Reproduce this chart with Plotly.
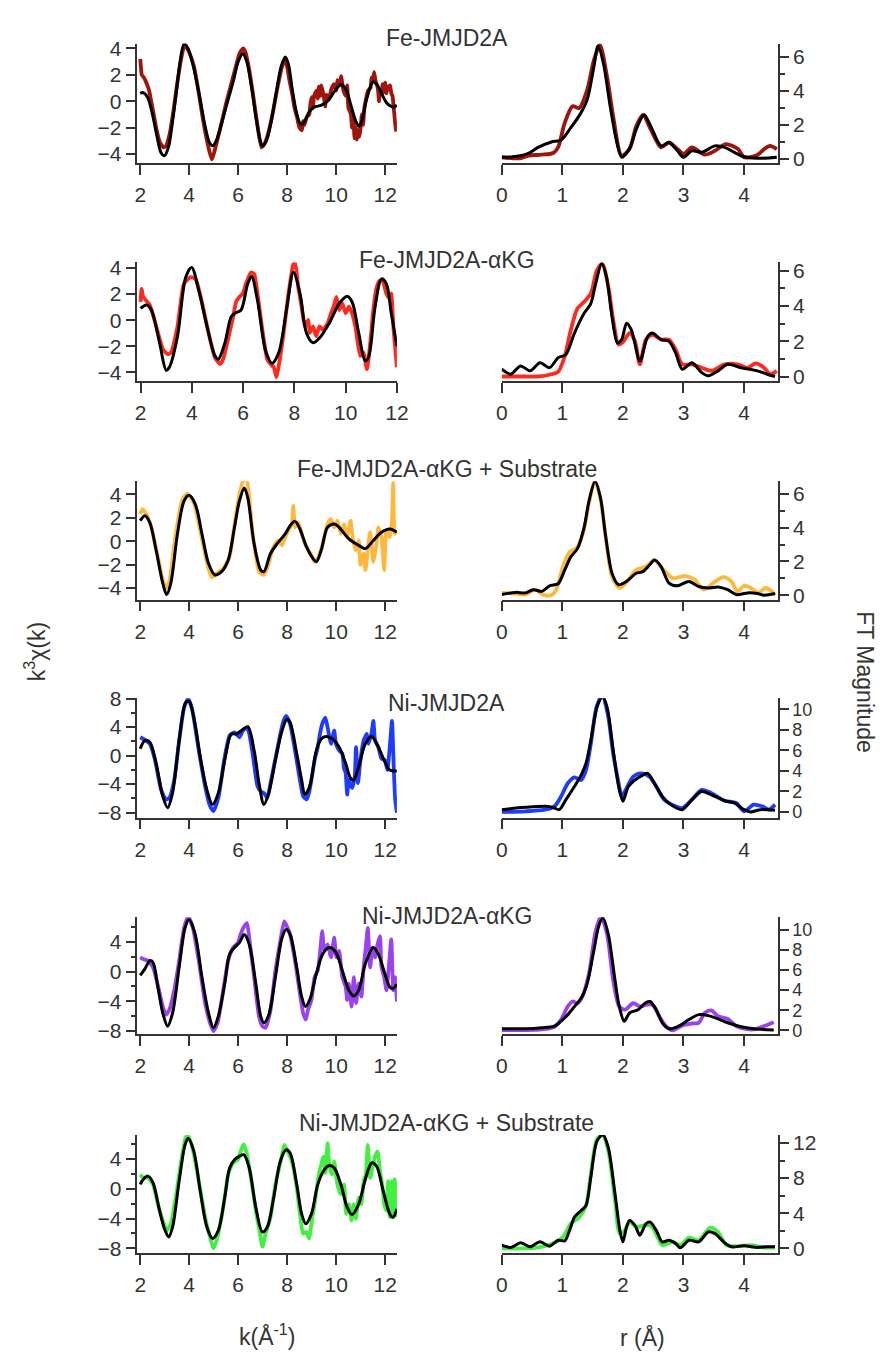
import plotly.graph_objects as go

W, H = 887, 1359

# ---------------- data (k, k^3 chi) and (r, FT magnitude) ----------------
fe_chi_data = [(2.0,3.2),(2.03,2.6),(2.06,2.0),(2.15,1.8),(2.25,1.4),(2.35,0.9),(2.5,-0.5),(2.65,-2.0),(2.8,-3.1),(2.95,-3.5),(3.05,-3.4),(3.2,-2.5),(3.35,-0.8),(3.5,1.2),(3.65,3.0),(3.8,4.2),(3.9,4.05),(4.0,3.7),(4.2,2.6),(4.4,0.5),(4.6,-1.8),(4.8,-3.6),(4.92,-4.4),(5.0,-4.0),(5.1,-3.3),(5.3,-1.8),(5.5,-0.2),(5.7,1.2),(5.9,2.6),(6.05,3.6),(6.2,4.0),(6.3,3.7),(6.45,2.4),(6.6,0.6),(6.8,-2.0),(6.95,-3.5),(7.05,-3.3),(7.2,-2.6),(7.4,-1.0),(7.6,1.0),(7.8,2.7),(7.9,3.1),(8.0,2.6),(8.1,1.5),(8.2,0.6),(8.3,-0.5),(8.4,-1.2),(8.5,-2.0),(8.6,-2.2),(8.65,-1.5),(8.7,-1.8),(8.8,-1.2),(8.9,-1.0),(8.95,-0.2),(9.0,0.3),(9.05,-0.5),(9.1,0.4),(9.2,0.8),(9.25,0.2),(9.3,1.1),(9.35,0.4),(9.4,1.2),(9.5,0.3),(9.55,-0.4),(9.6,0.5),(9.7,0.2),(9.8,0.9),(9.9,1.3),(10.0,0.8),(10.05,1.6),(10.15,1.2),(10.2,1.9),(10.3,0.8),(10.4,0.4),(10.45,1.2),(10.5,-0.5),(10.6,-1.0),(10.65,-2.0),(10.7,-1.2),(10.75,-2.8),(10.8,-2.0),(10.85,-2.9),(10.9,-2.2),(10.95,-2.7),(11.0,-2.0),(11.05,-1.0),(11.1,-1.8),(11.15,-0.5),(11.2,0.0),(11.3,0.8),(11.4,1.0),(11.45,1.8),(11.5,1.5),(11.55,2.2),(11.6,1.6),(11.7,1.0),(11.75,0.0),(11.8,0.9),(11.85,0.5),(11.9,1.3),(11.95,0.7),(12.0,1.4),(12.05,0.6),(12.1,1.0),(12.2,1.2),(12.25,0.6),(12.3,0.4),(12.35,-0.5),(12.4,-1.5),(12.45,-2.3)]
fe_chi_fit = [(2.0,0.6),(2.12,0.65),(2.3,0.3),(2.5,-1.0),(2.7,-2.8),(2.85,-3.9),(2.99,-4.13),(3.15,-3.5),(3.3,-1.8),(3.45,0.3),(3.6,2.6),(3.79,4.35),(3.95,4.0),(4.15,2.8),(4.4,0.6),(4.65,-1.9),(4.82,-3.1),(4.95,-3.38),(5.1,-3.0),(5.35,-1.5),(5.6,0.2),(5.8,1.5),(6.0,3.0),(6.19,3.6),(6.35,3.0),(6.55,1.0),(6.75,-1.5),(6.9,-3.0),(6.99,-3.38),(7.15,-3.0),(7.35,-1.5),(7.55,0.6),(7.75,2.6),(7.92,3.35),(8.05,2.8),(8.2,1.0),(8.35,-0.6),(8.5,-1.6),(8.6,-1.76),(8.75,-1.4),(8.9,-0.8),(9.1,-0.45),(9.4,-0.3),(9.7,0.1),(9.95,0.8),(10.2,1.25),(10.4,0.9),(10.6,-0.3),(10.8,-1.5),(10.93,-1.9),(11.05,-1.5),(11.25,0.2),(11.5,1.45),(11.65,1.3),(11.85,0.6),(12.05,-0.1),(12.2,-0.35),(12.35,-0.45),(12.48,-0.3)]
fe_ft_data = [(0.0,0.1),(0.31,0.04),(0.44,0.2),(0.66,0.25),(0.85,0.35),(0.93,0.68),(1.04,2.13),(1.17,3.1),(1.28,3.0),(1.41,4.06),(1.52,5.8),(1.62,6.7),(1.74,4.8),(1.84,2.5),(1.98,0.2),(2.11,0.6),(2.22,1.93),(2.33,2.6),(2.46,1.74),(2.63,0.68),(2.76,0.97),(2.9,0.58),(3.0,0.29),(3.14,0.68),(3.35,0.25),(3.52,0.48),(3.7,0.87),(3.9,0.58),(4.0,0.1),(4.22,0.23),(4.33,0.58),(4.43,0.77),(4.54,0.58)]
fe_ft_fit = [(0.0,0.1),(0.15,0.12),(0.31,0.19),(0.45,0.35),(0.6,0.68),(0.82,1.0),(0.98,1.12),(1.14,1.84),(1.3,2.67),(1.41,3.48),(1.52,5.4),(1.59,6.67),(1.68,5.6),(1.79,3.1),(1.9,0.97),(1.98,0.1),(2.11,0.62),(2.22,1.74),(2.35,2.61),(2.46,1.93),(2.63,0.77),(2.76,0.97),(2.9,0.48),(3.0,0.1),(3.14,0.48),(3.3,0.39),(3.52,0.77),(3.68,0.68),(3.95,0.19),(4.22,0.04),(4.54,0.1)]

feakg_chi_data = [(2.0,1.4),(2.04,2.4),(2.1,1.8),(2.36,1.16),(2.61,-0.48),(2.87,-2.24),(3.06,-2.6),(3.18,-2.5),(3.44,-0.48),(3.69,2.79),(3.95,3.3),(4.14,3.17),(4.39,1.41),(4.65,-0.98),(4.9,-2.87),(5.1,-3.37),(5.22,-3.0),(5.41,-1.48),(5.6,0.15),(5.73,1.41),(5.86,1.79),(5.99,2.04),(6.11,2.79),(6.31,3.67),(6.43,3.55),(6.56,2.04),(6.75,-0.73),(6.94,-3.0),(7.07,-3.37),(7.2,-3.62),(7.3,-4.38),(7.39,-3.5),(7.58,-0.98),(7.77,2.04),(7.96,4.3),(8.03,4.43),(8.15,2.54),(8.28,1.03),(8.41,-0.48),(8.54,0.03),(8.6,-0.98),(8.73,-0.48),(8.85,-1.23),(8.98,-0.48),(9.11,-0.73),(9.3,-0.23),(9.43,0.53),(9.55,1.16),(9.64,1.79),(9.75,0.78),(9.87,1.28),(10.0,0.53),(10.13,1.03),(10.25,0.53),(10.38,-0.48),(10.57,-2.74),(10.7,-2.49),(10.83,-3.75),(10.96,-1.74),(11.08,0.78),(11.21,2.54),(11.34,3.04),(11.46,2.92),(11.59,2.04),(11.72,1.66),(11.78,2.04),(11.87,-0.73),(12.0,-3.62)]
feakg_chi_fit = [(2.0,0.9),(2.23,1.16),(2.42,0.78),(2.74,-1.74),(3.0,-3.85),(3.12,-3.62),(3.44,-1.23),(3.76,3.3),(3.99,4.05),(4.27,2.29),(4.59,-0.48),(4.9,-2.74),(5.03,-3.0),(5.29,-1.74),(5.54,0.28),(5.73,0.58),(5.92,0.78),(6.18,2.79),(6.33,3.35),(6.56,1.53),(6.88,-2.36),(7.13,-3.3),(7.39,-2.49),(7.71,1.03),(7.96,3.67),(8.22,2.04),(8.47,-0.98),(8.73,-1.74),(8.98,-1.36),(9.36,-0.23),(9.75,1.28),(10.06,1.84),(10.25,1.41),(10.51,-0.98),(10.76,-3.12),(10.89,-2.87),(11.15,1.03),(11.4,3.17),(11.59,2.79),(11.78,0.53),(12.0,-1.99)]
feakg_ft_data = [(0.0,0.0),(0.39,0.0),(0.6,0.0),(0.82,0.13),(0.93,0.26),(1.04,1.15),(1.14,2.64),(1.25,3.85),(1.36,4.23),(1.47,4.69),(1.57,6.0),(1.66,6.37),(1.76,5.07),(1.84,3.2),(1.93,1.81),(2.01,1.99),(2.11,2.46),(2.2,1.99),(2.28,0.69),(2.38,2.09),(2.49,2.36),(2.63,2.09),(2.76,2.09),(2.87,1.53),(2.98,0.69),(3.14,0.69),(3.3,0.5),(3.46,0.32),(3.68,0.69),(3.89,0.69),(4.06,0.5),(4.19,0.74),(4.33,0.5),(4.43,0.13),(4.54,0.32)]
feakg_ft_fit = [(0.0,0.41),(0.15,0.13),(0.31,0.6),(0.47,0.32),(0.63,0.78),(0.79,0.5),(0.93,1.06),(1.06,1.25),(1.2,2.46),(1.36,3.58),(1.47,4.13),(1.55,5.25),(1.65,6.42),(1.73,5.62),(1.82,3.39),(1.91,1.9),(1.98,2.09),(2.06,3.02),(2.14,2.64),(2.28,0.88),(2.41,2.27),(2.49,2.46),(2.63,2.09),(2.76,1.99),(2.87,1.34),(2.98,0.41),(3.14,0.78),(3.3,0.22),(3.41,0.04),(3.57,0.32),(3.73,0.69),(3.95,0.5),(4.22,0.32),(4.38,0.13),(4.51,0.0)]

feakgs_chi_data = [(2.0,2.32),(2.09,2.74),(2.25,2.32),(2.45,1.19),(2.72,-1.33),(2.92,-3.3),(3.05,-4.0),(3.19,-3.44),(3.45,0.63),(3.72,3.58),(3.92,4.06),(4.19,3.3),(4.45,0.91),(4.72,-1.76),(4.92,-3.09),(5.12,-2.74),(5.39,-2.32),(5.65,-1.33),(5.85,1.47),(6.05,4.0),(6.23,5.27),(6.36,5.13),(6.59,0.63),(6.85,-2.6),(7.05,-2.88),(7.25,-1.9),(7.39,-0.77),(7.52,-0.21),(7.65,0.07),(7.79,-0.35),(7.92,0.35),(8.05,0.91),(8.19,1.47),(8.25,3.02),(8.32,1.19),(8.45,1.61),(8.59,0.63),(8.79,-0.49),(8.99,-1.19),(9.12,-1.76),(9.25,-1.47),(9.45,-0.21),(9.65,1.47),(9.79,1.9),(9.92,1.19),(10.05,1.76),(10.19,0.63),(10.32,1.47),(10.45,0.35),(10.59,1.76),(10.65,0.63),(10.79,-0.77),(10.92,0.07),(10.99,-2.04),(11.12,-1.05),(11.19,-2.46),(11.32,-0.21),(11.39,0.77),(11.52,-1.76),(11.65,-0.21),(11.72,1.19),(11.85,0.35),(11.96,-2.46),(12.05,0.91),(12.19,0.35),(12.28,1.76),(12.33,4.99),(12.39,0.63),(12.48,0.91)]
feakgs_chi_fit = [(2.0,1.76),(2.19,2.18),(2.39,1.62),(2.65,-0.77),(2.92,-3.58),(3.08,-4.56),(3.25,-3.58),(3.52,0.63),(3.79,3.44),(3.99,3.92),(4.25,3.16),(4.52,0.63),(4.79,-1.9),(5.05,-2.88),(5.32,-2.6),(5.59,-1.62),(5.85,1.19),(6.05,3.44),(6.25,4.56),(6.39,3.72),(6.65,-0.21),(6.92,-2.46),(7.05,-2.6),(7.32,-1.05),(7.59,-0.21),(7.92,0.63),(8.12,1.33),(8.32,1.7),(8.52,1.05),(8.79,-0.49),(9.05,-1.47),(9.19,-1.76),(9.39,-0.77),(9.65,1.19),(9.92,1.47),(10.12,1.19),(10.52,0.21),(10.92,-0.35),(11.19,-0.63),(11.52,0.07),(11.85,0.77),(12.19,1.05),(12.48,0.77)]
feakgs_ft_data = [(0.0,0.14),(0.23,0.1),(0.39,0.04),(0.55,0.33),(0.68,0.04),(0.82,0.0),(0.9,0.33),(1.01,1.69),(1.12,2.56),(1.25,2.85),(1.36,3.92),(1.44,5.48),(1.54,6.74),(1.63,5.67),(1.73,3.05),(1.82,1.11),(1.95,0.43),(2.09,0.91),(2.22,1.5),(2.38,1.69),(2.52,2.08),(2.65,1.59),(2.82,1.01),(3.03,1.15),(3.19,0.91),(3.33,0.33),(3.49,0.72),(3.65,1.07),(3.79,0.82),(3.89,0.23),(4.0,0.56),(4.11,0.43),(4.24,0.14),(4.35,0.43),(4.46,0.23),(4.51,0.0)]
feakgs_ft_fit = [(0.0,0.04),(0.23,0.17),(0.39,0.14),(0.52,0.33),(0.66,0.23),(0.79,0.56),(0.93,0.68),(1.04,1.5),(1.14,2.27),(1.25,2.76),(1.36,4.02),(1.44,5.57),(1.54,6.74),(1.63,5.77),(1.71,3.63),(1.82,1.3),(1.93,0.62),(2.06,0.82),(2.22,1.3),(2.33,1.4),(2.44,1.79),(2.52,2.08),(2.63,1.69),(2.76,0.72),(2.9,0.56),(3.09,0.82),(3.25,0.52),(3.41,0.43),(3.57,0.49),(3.73,0.33),(3.87,0.04),(4.06,0.14),(4.22,0.1),(4.33,0.0),(4.51,0.1)]

ni_chi_data = [(2.0,2.57),(2.19,2.2),(2.39,1.66),(2.59,-0.41),(2.85,-4.78),(3.05,-6.16),(3.19,-5.93),(3.39,-3.4),(3.59,2.11),(3.79,6.71),(3.96,8.0),(4.12,6.48),(4.39,0.74),(4.65,-4.32),(4.85,-7.08),(4.99,-7.77),(5.19,-5.93),(5.45,-0.18),(5.65,2.8),(5.85,3.26),(6.05,2.57),(6.19,3.49),(6.32,3.82),(6.41,3.59),(6.59,0.28),(6.79,-4.32),(6.92,-5.01),(7.05,-5.24),(7.19,-5.93),(7.32,-3.86),(7.52,-0.41),(7.72,3.03),(7.85,4.87),(7.96,5.56),(8.12,4.41),(8.32,0.74),(8.52,-3.4),(8.65,-5.7),(8.79,-6.16),(8.89,-5.24),(8.99,-3.4),(9.12,-0.64),(9.25,1.2),(9.35,3.26),(9.45,4.64),(9.56,5.33),(9.65,3.95),(9.79,1.66),(9.92,3.49),(9.99,1.66),(10.12,0.74),(10.25,0.28),(10.32,-1.79),(10.39,-2.48),(10.45,-5.47),(10.52,-3.4),(10.65,-4.55),(10.76,-2.94),(10.81,1.2),(10.89,-3.86),(10.99,-0.64),(11.12,2.11),(11.25,3.03),(11.32,1.66),(11.45,3.26),(11.52,4.87),(11.59,2.11),(11.72,1.2),(11.85,-0.41),(11.99,-0.64),(12.09,-2.02),(12.19,1.2),(12.28,4.87),(12.35,-1.56),(12.41,-6.16),(12.48,-8.0)]
ni_chi_fit = [(2.0,0.97),(2.19,2.11),(2.39,1.89),(2.65,-1.1),(2.92,-5.7),(3.12,-7.31),(3.32,-5.24),(3.59,2.11),(3.85,7.4),(3.99,7.63),(4.19,5.33),(4.45,-0.18),(4.72,-4.78),(4.95,-6.85),(5.19,-5.24),(5.45,-0.64),(5.72,3.03),(5.92,3.03),(6.12,3.49),(6.39,4.05),(6.65,0.74),(6.85,-3.86),(7.05,-6.85),(7.25,-5.24),(7.52,-0.64),(7.79,3.49),(7.99,5.1),(8.12,4.64),(8.39,0.28),(8.59,-3.4),(8.72,-5.47),(8.92,-4.32),(9.19,0.74),(9.39,2.34),(9.59,2.67),(9.85,2.34),(10.12,1.2),(10.39,-1.1),(10.59,-3.17),(10.72,-3.4),(10.92,-1.56),(11.19,1.66),(11.45,2.67),(11.72,1.2),(11.99,-0.87),(12.19,-2.02),(12.48,-2.16)]
ni_ft_data = [(0.0,0.0),(0.39,0.06),(0.71,0.22),(0.87,0.54),(0.98,1.51),(1.09,2.79),(1.2,3.37),(1.31,3.11),(1.39,4.07),(1.47,6.63),(1.57,10.32),(1.66,11.28),(1.75,9.52),(1.84,5.67),(1.93,2.79),(1.98,1.51),(2.06,2.31),(2.17,3.43),(2.3,3.75),(2.44,3.43),(2.55,2.47),(2.68,1.19),(2.87,0.54),(2.98,0.38),(3.14,1.19),(3.3,2.15),(3.46,1.83),(3.68,1.09),(3.87,0.87),(4.0,0.06),(4.16,0.71),(4.3,0.54),(4.41,0.22),(4.51,0.71)]
ni_ft_fit = [(0.0,0.22),(0.39,0.45),(0.77,0.54),(0.87,0.38),(0.95,0.22),(1.06,1.19),(1.2,2.47),(1.31,3.59),(1.39,4.71),(1.47,6.96),(1.57,10.16),(1.66,11.28),(1.74,10.16),(1.84,5.99),(1.93,2.47),(2.0,1.03),(2.09,2.47),(2.2,3.11),(2.33,3.59),(2.41,3.75),(2.52,2.79),(2.65,1.51),(2.79,0.71),(2.98,0.22),(3.14,1.19),(3.3,1.99),(3.46,1.67),(3.68,1.09),(3.84,0.87),(4.0,0.22),(4.11,0.0),(4.27,0.22),(4.51,0.16)]

niakg_chi_data = [(2.0,1.89),(2.12,1.67),(2.32,1.45),(2.52,0.57),(2.72,-1.85),(2.92,-4.7),(3.05,-5.8),(3.19,-5.14),(3.39,-2.51),(3.59,1.45),(3.79,5.85),(3.96,7.38),(4.15,5.85),(4.39,1.45),(4.65,-4.26),(4.85,-6.9),(4.99,-8.0),(5.16,-6.9),(5.39,-2.51),(5.59,1.45),(5.79,3.21),(5.99,3.87),(6.12,5.19),(6.25,6.07),(6.36,6.51),(6.45,4.53),(6.65,-0.75),(6.85,-6.02),(6.99,-7.34),(7.12,-7.56),(7.32,-5.14),(7.52,0.13),(7.72,4.09),(7.88,6.73),(7.99,6.07),(8.12,4.97),(8.32,1.45),(8.52,-2.94),(8.65,-5.58),(8.76,-6.46),(8.85,-5.14),(8.99,-3.82),(9.12,-0.75),(9.25,0.13),(9.35,2.77),(9.43,5.41),(9.52,2.77),(9.65,3.65),(9.79,1.89),(9.92,4.53),(10.01,1.89),(10.12,2.77),(10.25,-0.75),(10.39,-2.07),(10.45,-3.82),(10.52,-1.63),(10.63,-4.7),(10.72,-0.75),(10.81,-4.26),(10.92,-1.63),(11.03,-3.38),(11.12,0.57),(11.21,3.21),(11.29,5.85),(11.39,0.57),(11.48,3.21),(11.59,1.89),(11.69,3.65),(11.79,4.75),(11.85,0.57),(11.96,-0.75),(12.05,-2.51),(12.15,0.57),(12.25,4.31),(12.33,-2.51),(12.41,-0.75),(12.48,-4.04)]
niakg_chi_fit = [(2.0,-0.53),(2.19,0.35),(2.39,1.45),(2.52,1.23),(2.72,-2.07),(2.92,-5.58),(3.12,-7.34),(3.32,-5.58),(3.59,0.57),(3.83,5.85),(3.99,6.95),(4.23,5.19),(4.52,-0.75),(4.79,-5.58),(4.99,-7.56),(5.19,-6.02),(5.45,-1.63),(5.65,2.33),(5.85,3.21),(6.05,3.87),(6.25,4.97),(6.45,3.65),(6.72,-1.63),(6.92,-6.02),(7.05,-6.9),(7.25,-5.8),(7.52,-0.75),(7.79,4.53),(7.96,5.63),(8.12,4.97),(8.39,0.57),(8.59,-3.38),(8.75,-4.7),(8.92,-3.82),(9.19,-0.31),(9.45,2.33),(9.72,3.21),(9.99,2.55),(10.25,0.13),(10.52,-2.51),(10.72,-3.3),(10.92,-2.51),(11.19,1.01),(11.52,3.21),(11.72,2.33),(11.99,-0.31),(12.19,-2.07),(12.32,-2.29),(12.48,-1.71)]
niakg_ft_data = [(0.0,0.03),(0.39,0.03),(0.66,0.1),(0.87,0.36),(0.98,1.07),(1.09,2.37),(1.17,2.86),(1.25,2.69),(1.33,3.34),(1.44,5.62),(1.55,9.84),(1.64,11.3),(1.74,9.51),(1.84,4.97),(1.94,2.37),(2.03,2.05),(2.17,2.69),(2.28,2.37),(2.38,2.53),(2.49,2.53),(2.6,1.4),(2.71,0.42),(2.82,0.0),(2.98,0.49),(3.14,0.68),(3.25,0.75),(3.35,1.72),(3.46,1.98),(3.57,1.4),(3.73,1.14),(3.87,0.42),(4.0,0.16),(4.16,0.1),(4.33,0.42),(4.49,0.81)]
niakg_ft_fit = [(0.0,0.16),(0.39,0.16),(0.66,0.26),(0.87,0.42),(0.98,0.91),(1.09,1.56),(1.2,2.37),(1.31,3.18),(1.41,4.64),(1.52,7.89),(1.6,10.32),(1.67,11.14),(1.76,9.51),(1.87,4.97),(1.94,2.37),(2.02,0.91),(2.11,1.72),(2.25,2.05),(2.38,2.76),(2.45,2.86),(2.55,2.05),(2.65,0.75),(2.76,0.16),(2.92,0.42),(3.09,1.07),(3.25,1.56),(3.41,1.46),(3.57,1.14),(3.73,0.75),(3.95,0.36),(4.16,0.16),(4.49,0.03)]

niakgs_chi_data = [(2.0,1.89),(2.12,1.45),(2.32,1.45),(2.52,0.57),(2.72,-2.07),(2.92,-4.26),(3.09,-5.58),(3.25,-4.7),(3.45,-1.19),(3.65,3.21),(3.83,6.51),(3.92,7.25),(4.12,5.63),(4.39,1.01),(4.65,-3.82),(4.85,-6.46),(4.99,-8.0),(5.12,-6.9),(5.39,-2.51),(5.59,1.89),(5.79,3.43),(5.99,3.87),(6.12,5.19),(6.23,5.93),(6.36,4.53),(6.52,1.45),(6.72,-2.95),(6.89,-6.02),(6.99,-7.78),(7.12,-6.02),(7.32,-3.82),(7.52,0.57),(7.72,3.43),(7.88,5.85),(7.99,5.19),(8.19,3.65),(8.39,0.13),(8.52,-3.38),(8.65,-6.02),(8.79,-5.8),(8.89,-6.68),(9.03,-3.82),(9.16,-1.19),(9.29,1.89),(9.39,3.21),(9.48,4.31),(9.56,2.11),(9.65,6.07),(9.72,3.21),(9.83,1.89),(9.92,3.65),(10.05,0.57),(10.19,-0.75),(10.32,0.57),(10.41,-3.38),(10.52,-2.07),(10.63,-4.26),(10.72,-2.07),(10.81,-4.04),(10.92,-1.19),(11.03,-2.07),(11.12,1.01),(11.21,1.89),(11.29,5.85),(11.39,1.45),(11.48,2.77),(11.59,4.31),(11.69,4.97),(11.79,2.33),(11.88,0.57),(11.96,-2.07),(12.05,-2.95),(12.12,1.01),(12.19,-3.82),(12.28,1.01),(12.33,-3.82),(12.39,1.23),(12.48,-3.82)]
niakgs_chi_fit = [(2.0,0.57),(2.12,1.23),(2.32,1.67),(2.52,0.79),(2.79,-2.95),(2.99,-5.36),(3.16,-6.46),(3.32,-5.14),(3.59,1.01),(3.83,5.85),(3.96,6.73),(4.19,4.97),(4.45,-0.31),(4.72,-5.14),(4.95,-6.68),(5.19,-5.58),(5.45,-1.19),(5.65,2.77),(5.85,3.87),(6.05,4.31),(6.23,4.53),(6.45,2.77),(6.72,-2.51),(6.99,-5.8),(7.19,-5.14),(7.45,-1.19),(7.72,3.65),(7.96,5.19),(8.12,4.75),(8.39,0.57),(8.59,-3.38),(8.76,-4.7),(8.99,-3.38),(9.25,0.57),(9.52,2.55),(9.72,3.08),(9.92,2.77),(10.19,0.57),(10.45,-2.51),(10.65,-3.47),(10.92,-2.07),(11.19,1.23),(11.45,3.43),(11.65,2.99),(11.92,-0.31),(12.19,-3.38),(12.32,-3.82),(12.48,-2.73)]
niakgs_ft_data = [(0.0,0.0),(0.39,0.0),(0.66,0.19),(0.87,0.64),(1.01,1.31),(1.14,2.81),(1.28,3.56),(1.39,4.87),(1.47,8.44),(1.57,12.37),(1.66,12.94),(1.76,11.06),(1.87,5.44),(1.95,1.69),(2.03,2.06),(2.11,3.0),(2.22,2.44),(2.35,2.62),(2.46,2.62),(2.57,1.31),(2.65,0.37),(2.82,0.75),(2.95,0.37),(3.09,1.24),(3.25,0.94),(3.44,2.36),(3.57,1.87),(3.71,0.37),(3.89,0.26),(4.11,0.37),(4.33,0.11),(4.51,0.11)]
niakgs_ft_fit = [(0.0,0.37),(0.15,0.11),(0.31,0.64),(0.47,0.19),(0.63,0.75),(0.79,0.26),(0.93,0.94),(1.04,0.86),(1.12,2.06),(1.2,3.56),(1.31,4.31),(1.39,4.87),(1.47,8.06),(1.57,12.19),(1.67,12.94),(1.76,11.44),(1.87,6.19),(1.95,2.06),(2.0,0.75),(2.06,2.44),(2.11,3.19),(2.2,2.62),(2.28,1.5),(2.38,2.81),(2.45,3.0),(2.55,2.06),(2.65,0.75),(2.76,0.94),(2.87,0.56),(2.95,0.07),(3.09,0.94),(3.25,0.75),(3.41,1.87),(3.52,1.69),(3.68,0.64),(3.79,0.19),(4.0,0.3),(4.22,0.11),(4.38,0.19),(4.51,0.19)]

titles = ["Fe-JMJD2A", "Fe-JMJD2A-\u03b1KG", "Fe-JMJD2A-\u03b1KG + Substrate",
          "Ni-JMJD2A", "Ni-JMJD2A-\u03b1KG", "Ni-JMJD2A-\u03b1KG + Substrate"]
colors = ["#a0150b", "#ff2a1e", "#ffb83c", "#1e3cff", "#9a42ef", "#42f040"]
chi_data = [fe_chi_data, feakg_chi_data, feakgs_chi_data, ni_chi_data, niakg_chi_data, niakgs_chi_data]
chi_fit = [fe_chi_fit, feakg_chi_fit, feakgs_chi_fit, ni_chi_fit, niakg_chi_fit, niakgs_chi_fit]
ft_data = [fe_ft_data, feakg_ft_data, feakgs_ft_data, ni_ft_data, niakg_ft_data, niakgs_ft_data]
ft_fit = [fe_ft_fit, feakg_ft_fit, feakgs_ft_fit, ni_ft_fit, niakg_ft_fit, niakgs_ft_fit]

k_ticks = [2, 4, 6, 8, 10, 12]
r_ticks = [0, 1, 2, 3, 4]
chi_ticks = [[-4, -2, 0, 2, 4]] * 3 + [[-8, -4, 0, 4, 8], [-8, -4, 0, 4], [-8, -4, 0, 4]]
chi_minor = [[], [], [], [-6, -2, 2, 6], [-6, -2, 2, 6], [-6, -2, 2, 6]]
ft_ticks = [[0, 2, 4, 6]] * 3 + [[0, 2, 4, 6, 8, 10]] * 2 + [[0, 4, 8, 12]]
ft_minor = [[1, 3, 5]] * 3 + [[], [], [2, 6, 10]]
ft_tick_size = [21, 21, 21, 18, 18, 21]

# ---------------- layout geometry (pixels) ----------------
row_px = [(33, 154), (255, 375), (477, 597), (697, 818), (919, 1038), (1140, 1260)]
chi_range = [(-4.67, 4.37), (-4.65, 4.43), (-4.99, 5.12), (-8.69, 8.04), (-8.46, 7.3), (-8.66, 7.16)]
ft_range = [(-0.23, 6.8), (-0.24, 6.46), (-0.26, 6.74), (-0.55, 11.07), (-0.41, 11.23), (-0.56, 12.9)]
k_range = [(1.88, 12.48), (1.87, 12.0), (1.88, 12.48), (1.88, 12.48), (1.88, 12.48), (1.88, 12.48)]
left_dom = [134 / W, 399 / W]
right_dom = [506 / W, 788 / W]
title_y = [27, 253, 465, 702, 918, 1128]

FONT = "Liberation Sans, Arial, sans-serif"
TXT = "#333333"
AX = "#333333"

fig = go.Figure()
layout = dict(width=W, height=H, margin=dict(l=0, r=0, t=0, b=0),
              paper_bgcolor="white", plot_bgcolor="white", showlegend=False,
              font=dict(family=FONT, color=TXT))


def unzip(pairs):
    return [p[0] for p in pairs], [p[1] for p in pairs]


def axis_common(size=21):
    return dict(showline=True, linecolor=AX, linewidth=1.5, ticks="outside", ticklen=10,
                tickwidth=1.5, tickcolor=AX, showgrid=False, zeroline=False,
                tickfont=dict(family=FONT, size=size, color=TXT), tickmode="array")


annotations = []
for i in range(6):
    top, bot = row_px[i]
    ydom = [(H - bot) / H, (H - top) / H]
    nL, nR = 2 * i + 1, 2 * i + 2
    xL = "x" if nL == 1 else f"x{nL}"
    yL = "y" if nL == 1 else f"y{nL}"
    xR, yR = f"x{nR}", f"y{nR}"

    ax = axis_common()
    ax.update(domain=left_dom, anchor=yL, range=list(k_range[i]), tickvals=k_ticks,
              ticklabelstandoff=2)
    layout["xaxis" if nL == 1 else f"xaxis{nL}"] = ax
    ay = axis_common()
    ay.update(domain=ydom, anchor=xL, range=list(chi_range[i]), tickvals=chi_ticks[i],
              ticklabelstandoff=0)
    if chi_minor[i]:
        ay["minor"] = dict(tickvals=chi_minor[i], ticklen=5, ticks="outside",
                           tickcolor=AX, tickwidth=1.5)
    layout["yaxis" if nL == 1 else f"yaxis{nL}"] = ay

    bx = axis_common()
    bx.update(domain=right_dom, anchor=yR, range=[0, 4.56], tickvals=r_ticks,
              ticklabelstandoff=2)
    layout[f"xaxis{nR}"] = bx
    by = axis_common(ft_tick_size[i])
    by.update(domain=ydom, anchor=xR, side="right", range=list(ft_range[i]),
              tickvals=ft_ticks[i], ticklen=9, ticklabelstandoff=0)
    if ft_minor[i]:
        by["minor"] = dict(tickvals=ft_minor[i], ticklen=5, ticks="outside",
                           tickcolor=AX, tickwidth=1.5)
    layout[f"yaxis{nR}"] = by

    kx, ky = unzip(chi_data[i])
    fig.add_trace(go.Scatter(x=kx, y=ky, xaxis=xL, yaxis=yL, mode="lines",
                             line=dict(color=colors[i], width=3.8, shape="spline", smoothing=0.5)))
    kx, ky = unzip(chi_fit[i])
    fig.add_trace(go.Scatter(x=kx, y=ky, xaxis=xL, yaxis=yL, mode="lines",
                             line=dict(color="black", width=3.0, shape="spline", smoothing=0.9)))
    rx, ry = unzip(ft_data[i])
    fig.add_trace(go.Scatter(x=rx, y=ry, xaxis=xR, yaxis=yR, mode="lines",
                             line=dict(color=colors[i], width=3.8, shape="spline", smoothing=0.8)))
    rx, ry = unzip(ft_fit[i])
    fig.add_trace(go.Scatter(x=rx, y=ry, xaxis=xR, yaxis=yR, mode="lines",
                             line=dict(color="black", width=3.0, shape="spline", smoothing=0.8)))

    annotations.append(dict(text=titles[i], x=450 / W, y=1 - title_y[i] / H, xref="paper", yref="paper",
                            xanchor="center", yanchor="middle", showarrow=False,
                            font=dict(family=FONT, size=23, color=TXT)))

annotations += [
    dict(text="k<sup>3</sup>\u03c7(k)", x=30 / W, y=1 - 650 / H, xref="paper", yref="paper",
         textangle=-90, showarrow=False, xanchor="center", yanchor="middle",
         font=dict(family=FONT, size=23, color=TXT)),
    dict(text="FT Magnitude", x=876 / W, y=1 - 680 / H, xref="paper", yref="paper",
         textangle=90, showarrow=False, xanchor="center", yanchor="middle",
         font=dict(family=FONT, size=23, color=TXT)),
    dict(text="k(\u00c5<sup>-1</sup>)", x=266 / W, y=1 - 1343 / H, xref="paper", yref="paper",
         showarrow=False, xanchor="center", yanchor="middle",
         font=dict(family=FONT, size=23, color=TXT)),
    dict(text="r (\u00c5)", x=650 / W, y=1 - 1345 / H, xref="paper", yref="paper",
         showarrow=False, xanchor="center", yanchor="middle",
         font=dict(family=FONT, size=23, color=TXT)),
]
layout["annotations"] = annotations
fig.update_layout(**layout)
fig.write_html("out.html")
